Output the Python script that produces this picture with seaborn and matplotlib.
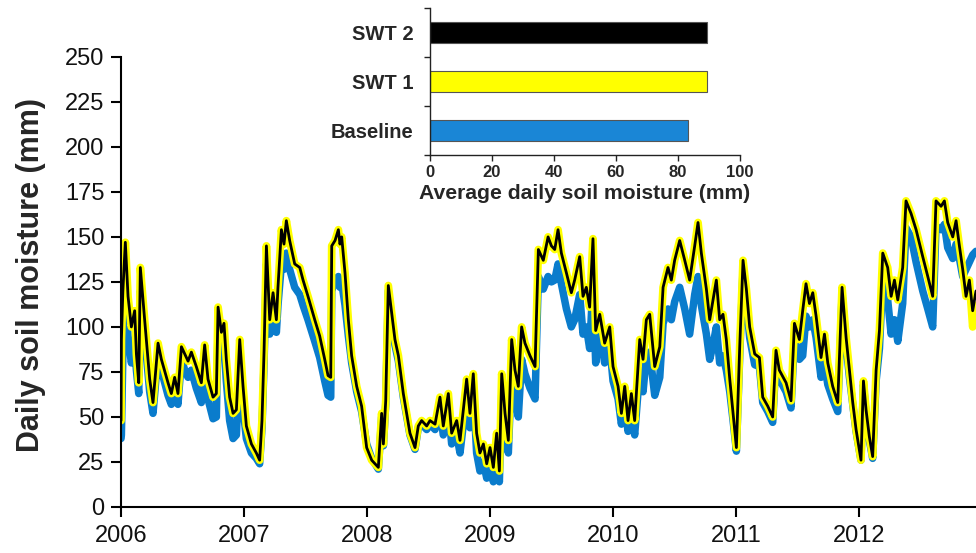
import matplotlib
matplotlib.use("Agg")
import matplotlib.pyplot as plt
import pandas as pd
import seaborn as sns

# Daily soil moisture (mm), sampled at the turning points of the record (decimal years)
years = [
    2006.000, 2006.003, 2006.015, 2006.035, 2006.057, 2006.084, 2006.111, 2006.125, 2006.144, 2006.157,
    2006.192, 2006.233, 2006.260, 2006.301, 2006.328, 2006.382, 2006.409, 2006.436, 2006.463, 2006.491,
    2006.518, 2006.545, 2006.572, 2006.612, 2006.653, 2006.680, 2006.707, 2006.748, 2006.775, 2006.789,
    2006.816, 2006.837, 2006.856, 2006.883, 2006.911, 2006.938, 2006.965, 2006.992, 2007.019, 2007.060,
    2007.100, 2007.127, 2007.146, 2007.163, 2007.182, 2007.209, 2007.236, 2007.263, 2007.276, 2007.304,
    2007.325, 2007.344, 2007.371, 2007.412, 2007.453, 2007.480, 2007.520, 2007.575, 2007.615, 2007.656,
    2007.683, 2007.705, 2007.713, 2007.740, 2007.767, 2007.780, 2007.794, 2007.821, 2007.848, 2007.875,
    2007.916, 2007.956, 2007.997, 2008.038, 2008.092, 2008.119, 2008.133, 2008.152, 2008.173, 2008.200,
    2008.227, 2008.255, 2008.295, 2008.349, 2008.390, 2008.417, 2008.444, 2008.485, 2008.512, 2008.553,
    2008.593, 2008.620, 2008.661, 2008.688, 2008.729, 2008.756, 2008.783, 2008.810, 2008.837, 2008.864,
    2008.891, 2008.918, 2008.946, 2008.973, 2009.000, 2009.027, 2009.054, 2009.076, 2009.095, 2009.122,
    2009.149, 2009.176, 2009.203, 2009.230, 2009.257, 2009.284, 2009.325, 2009.366, 2009.393, 2009.433,
    2009.472, 2009.499, 2009.526, 2009.553, 2009.580, 2009.621, 2009.661, 2009.688, 2009.729, 2009.756,
    2009.783, 2009.810, 2009.837, 2009.859, 2009.892, 2009.932, 2009.973, 2010.000, 2010.041, 2010.068,
    2010.095, 2010.122, 2010.149, 2010.176, 2010.217, 2010.244, 2010.271, 2010.298, 2010.339, 2010.380,
    2010.407, 2010.447, 2010.474, 2010.501, 2010.542, 2010.583, 2010.623, 2010.664, 2010.691, 2010.718,
    2010.759, 2010.786, 2010.813, 2010.840, 2010.867, 2010.894, 2010.921, 2010.949, 2010.976, 2011.003,
    2011.030, 2011.057, 2011.084, 2011.111, 2011.152, 2011.190, 2011.217, 2011.258, 2011.298, 2011.325,
    2011.352, 2011.407, 2011.447, 2011.475, 2011.515, 2011.542, 2011.569, 2011.597, 2011.624, 2011.651,
    2011.691, 2011.719, 2011.746, 2011.786, 2011.827, 2011.862, 2011.895, 2011.922, 2011.949, 2011.976,
    2012.016, 2012.036, 2012.057, 2012.084, 2012.111, 2012.139, 2012.166, 2012.193, 2012.233, 2012.261,
    2012.288, 2012.315, 2012.355, 2012.382, 2012.423, 2012.464, 2012.518, 2012.559, 2012.599, 2012.626,
    2012.667, 2012.694, 2012.721, 2012.762, 2012.789, 2012.816, 2012.843, 2012.870, 2012.897, 2012.924,
    2012.951,
]

swt2_mm = [
    48, 93, 120, 147, 117, 100, 109, 85, 69, 133,
    104, 71, 58, 91, 82, 69, 63, 72, 63, 89,
    85, 81, 86, 78, 69, 90, 71, 61, 63, 111,
    97, 102, 82, 61, 52, 54, 93, 67, 45, 35,
    30, 26, 48, 87, 145, 104, 119, 104, 122, 154,
    146, 159, 148, 135, 133, 126, 117, 104, 95, 82,
    73, 72, 145, 148, 154, 146, 150, 130, 104, 84,
    67, 56, 33, 26, 22, 52, 35, 59, 123, 108,
    93, 84, 63, 41, 33, 45, 48, 45, 48, 46,
    61, 45, 63, 41, 48, 37, 54, 71, 52, 74,
    41, 30, 35, 24, 33, 22, 41, 20, 74, 52,
    37, 93, 76, 67, 100, 91, 84, 78, 143, 137,
    150, 145, 143, 154, 141, 130, 119, 126, 139, 117,
    122, 111, 149, 98, 107, 91, 100, 78, 67, 52,
    67, 48, 63, 48, 93, 82, 104, 107, 78, 89,
    122, 133, 126, 137, 148, 137, 126, 145, 158, 141,
    121, 104, 115, 126, 104, 107, 93, 71, 52, 33,
    89, 137, 121, 100, 85, 83, 61, 56, 50, 87,
    76, 69, 59, 102, 93, 109, 124, 113, 119, 106,
    83, 96, 80, 67, 58, 122, 94, 76, 58, 43,
    26, 70, 54, 39, 28, 76, 98, 141, 133, 117,
    126, 115, 133, 170, 163, 154, 139, 128, 117, 170,
    167, 170, 158, 150, 159, 145, 132, 117, 126, 109,
    120,
]

swt1_mm = [
    48, 93, 120, 147, 117, 100, 109, 85, 69, 133,
    104, 71, 58, 91, 82, 69, 63, 72, 63, 89,
    85, 81, 86, 78, 69, 90, 71, 61, 63, 111,
    97, 102, 82, 61, 52, 54, 93, 67, 45, 35,
    30, 26, 48, 87, 145, 104, 119, 104, 122, 154,
    146, 159, 148, 135, 133, 126, 117, 104, 95, 82,
    73, 72, 145, 148, 154, 146, 150, 130, 104, 84,
    67, 56, 33, 26, 22, 52, 35, 59, 123, 108,
    93, 84, 63, 41, 33, 45, 48, 45, 48, 46,
    61, 45, 63, 41, 48, 37, 54, 71, 52, 74,
    41, 30, 35, 24, 33, 22, 41, 20, 74, 52,
    37, 93, 76, 67, 100, 91, 84, 78, 143, 137,
    150, 145, 143, 154, 141, 130, 119, 126, 139, 117,
    122, 111, 149, 98, 107, 91, 100, 78, 67, 52,
    67, 48, 63, 48, 93, 82, 104, 107, 78, 89,
    122, 133, 126, 137, 148, 137, 126, 145, 158, 141,
    121, 104, 115, 126, 104, 107, 93, 71, 52, 33,
    89, 137, 121, 100, 85, 83, 61, 56, 50, 87,
    76, 69, 59, 102, 93, 109, 124, 113, 119, 106,
    83, 96, 80, 67, 58, 122, 94, 76, 58, 43,
    26, 70, 54, 39, 28, 76, 98, 141, 133, 117,
    126, 115, 133, 170, 163, 154, 139, 128, 117, 170,
    167, 170, 158, 150, 159, 145, 132, 117, 126, 100,
    112,
]

baseline_mm = [
    38, 40, 85, 125, 95, 80, 90, 76, 63, 120,
    95, 64, 52, 85, 76, 62, 57, 66, 57, 82,
    76, 72, 76, 66, 58, 80, 60, 49, 50, 100,
    85, 90, 70, 48, 38, 40, 82, 55, 38, 30,
    27, 24, 44, 80, 135, 96, 108, 97, 112, 135,
    132, 141, 132, 122, 118, 112, 104, 92, 83, 70,
    62, 61, 120, 126, 128, 122, 125, 112, 95, 80,
    64, 53, 35, 27, 21, 50, 34, 57, 120, 105,
    90, 81, 61, 40, 32, 44, 46, 43, 46, 43,
    55, 40, 56, 35, 40, 30, 46, 63, 44, 65,
    30, 20, 25, 16, 22, 14, 30, 14, 62, 40,
    30, 78, 61, 50, 82, 74, 66, 60, 128, 121,
    128, 125, 126, 135, 124, 110, 100, 104, 118, 96,
    100, 88, 124, 80, 98, 80, 90, 70, 60, 46,
    58, 42, 52, 40, 76, 64, 84, 86, 62, 72,
    102, 110, 104, 114, 122, 110, 96, 118, 128, 112,
    96, 82, 90, 100, 80, 84, 76, 64, 48, 31,
    84, 132, 114, 94, 79, 78, 58, 53, 47, 82,
    71, 64, 55, 94, 82, 84, 106, 100, 104, 94,
    72, 80, 68, 60, 53, 118, 90, 72, 57, 42,
    26, 68, 52, 37, 27, 70, 88, 128, 115, 96,
    104, 92, 113, 155, 150, 136, 120, 110, 100, 156,
    154, 157, 144, 138, 146, 138, 128, 132, 136, 140,
    142,
]

# Average daily soil moisture per scenario (inset)
scenario_labels = ["SWT 2", "SWT 1", "Baseline"]
scenario_means = [89.5, 89.4, 83.1]

year_ticks = [2006, 2007, 2008, 2009, 2010, 2011, 2012]
moisture_ticks = [0, 25, 50, 75, 100, 125, 150, 175, 200, 225, 250]
inset_ticks = [0, 20, 40, 60, 80, 100]

BLUE = "#0a7ccc"
YELLOW = "#ffff00"
BLACK = "#000000"

sns.set_theme(style="white")
plt.rcParams["font.family"] = ["Liberation Sans", "DejaVu Sans"]

fig = plt.figure(figsize=(9.76, 5.53), dpi=100)
fig.patch.set_facecolor("white")

# ---- main time series ----
ax = fig.add_axes([0.124, 0.0832, 0.876, 0.814])

series = pd.DataFrame({
    "year": years * 3,
    "mm": baseline_mm + swt1_mm + swt2_mm,
    "scenario": ["Baseline"] * len(years) + ["SWT 1"] * len(years) + ["SWT 2"] * len(years),
})

styles = {"Baseline": (BLUE, 5.4, 1), "SWT 1": (YELLOW, 5.6, 2), "SWT 2": (BLACK, 2.0, 3)}
for name, (color, lw, z) in styles.items():
    sub = series[series["scenario"] == name]
    sns.lineplot(data=sub, x="year", y="mm", color=color, linewidth=lw,
                 estimator=None, sort=False, ax=ax, zorder=z,
                 solid_joinstyle="round", solid_capstyle="round")

ax.set_xlim(2006.0, 2012.951)
ax.set_ylim(0, 250)
ax.set_xticks(year_ticks)
ax.set_xticklabels([str(y) for y in year_ticks])
ax.set_yticks(moisture_ticks)
ax.set_xlabel("")
ax.set_ylabel("Daily soil moisture (mm)", fontsize=22, fontweight="bold")
ax.yaxis.set_label_coords(-0.088, 0.516)

for side in ("top", "right"):
    ax.spines[side].set_visible(False)
for side in ("left", "bottom"):
    ax.spines[side].set_color("black")
    ax.spines[side].set_linewidth(1.5)
ax.tick_params(axis="both", which="major", direction="out", length=7, width=1.5,
               color="black", labelsize=17, labelcolor="#111111", left=True, bottom=True)
ax.tick_params(axis="x", pad=6)
ax.tick_params(axis="y", pad=5)

# ---- inset: average daily soil moisture ----
axin = fig.add_axes([0.4406, 0.7197, 0.3176, 0.2658])
axin.set_facecolor("white")
bars = pd.DataFrame({"scenario": scenario_labels, "mean": scenario_means})
sns.barplot(data=bars, x="mean", y="scenario", hue="scenario", order=scenario_labels,
            palette={"SWT 2": BLACK, "SWT 1": YELLOW, "Baseline": "#1a86d6"},
            saturation=1, orient="h", width=0.42, edgecolor="#555555", linewidth=0.8,
            legend=False, ax=axin)
axin.set_xlim(0, 100)
axin.set_ylim(2.5, -0.5)
axin.set_xticks(inset_ticks)
axin.set_xticklabels([str(t) for t in inset_ticks], fontweight="bold")
axin.set_yticks([-0.5, 0.5, 1.5, 2.5], minor=True)
axin.set_xlabel("Average daily soil moisture (mm)", fontsize=15.2, fontweight="bold", labelpad=3)
axin.set_ylabel("")
for lbl in axin.get_yticklabels():
    lbl.set_fontweight("bold")
for side in ("top", "right"):
    axin.spines[side].set_visible(False)
for side in ("left", "bottom"):
    axin.spines[side].set_color("#222222")
    axin.spines[side].set_linewidth(1.0)
axin.tick_params(axis="x", which="major", direction="out", length=4, width=1,
                 color="#222222", labelsize=12, pad=3, bottom=True)
axin.tick_params(axis="y", which="major", length=0, labelsize=14.5, pad=12)
axin.tick_params(axis="y", which="minor", direction="out", length=4, width=1,
                 color="#222222", left=True)

fig.savefig("out.png", dpi=100, facecolor="white")
